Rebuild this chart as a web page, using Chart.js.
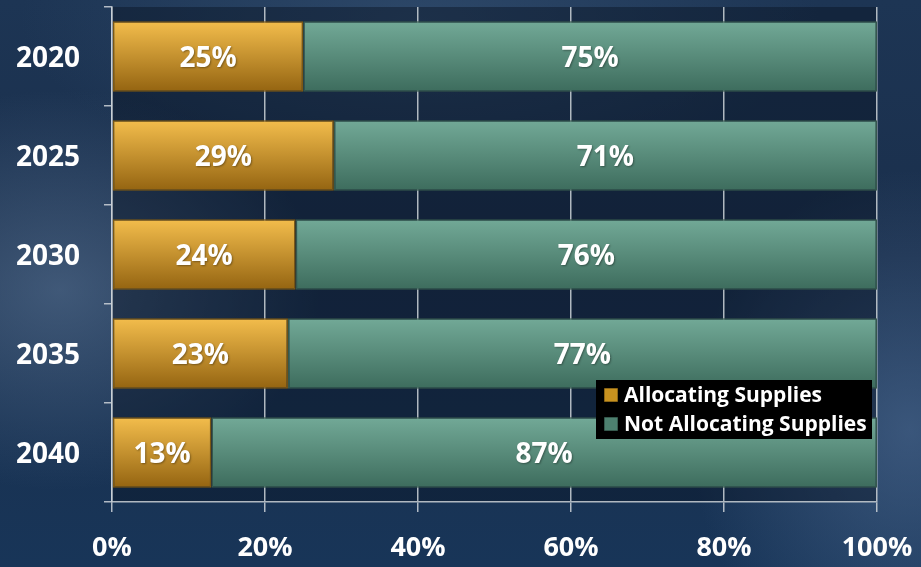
<!DOCTYPE html>
<html>
<head>
<meta charset="utf-8">
<script src="https://cdn.jsdelivr.net/npm/chart.js@4.4.1/dist/chart.umd.min.js"></script>
<style>
  html, body { margin: 0; padding: 0; }
  body {
    width: 921px; height: 567px; overflow: hidden;
    background:
      radial-gradient(ellipse 260px 200px at 60px 290px, rgba(95,122,155,0.55), rgba(95,122,155,0) 100%),
      radial-gradient(ellipse 220px 260px at 910px 430px, rgba(80,110,150,0.6), rgba(80,110,150,0) 100%),
      radial-gradient(ellipse 400px 160px at 420px 20px, rgba(60,90,125,0.5), rgba(60,90,125,0) 100%),
      linear-gradient(180deg, #1d3554 0%, #1a2f4c 45%, #183558 100%);
  }
  #wrap { position: relative; width: 921px; height: 567px; }
</style>
</head>
<body>
<div id="wrap"><canvas id="supplyChart" width="921" height="567"></canvas></div>
<script>
// ============================================================================
// DATA
// ============================================================================
const years = ['2020', '2025', '2030', '2035', '2040'];
const allocating = [25, 29, 24, 23, 13];
const notAllocating = [75, 71, 76, 77, 87];
const seriesNames = ['Allocating Supplies', 'Not Allocating Supplies'];
const xTickValues = [0, 20, 40, 60, 80, 100];

const FONT = '"Open Sans", "DejaVu Sans", sans-serif';
const BAR_PCT = 0.71;

// Vertical gradient for each bar, built from the y scale
function barGradient(top, bottom) {
  return (context) => {
    const chart = context.chart;
    const yScale = chart.scales.y;
    if (!yScale || !chart.chartArea || context.dataIndex === undefined) return bottom;
    const band = yScale.height / years.length;
    const c = yScale.getPixelForValue(context.dataIndex);
    const h = band * BAR_PCT;
    const g = chart.ctx.createLinearGradient(0, c - h / 2, 0, c + h / 2);
    g.addColorStop(0, top);
    g.addColorStop(0.5, blend(top, bottom));
    g.addColorStop(1, bottom);
    return g;
  };
}

function blend(a, b) {
  const pa = [1, 3, 5].map(i => parseInt(a.substr(i, 2), 16));
  const pb = [1, 3, 5].map(i => parseInt(b.substr(i, 2), 16));
  return 'rgb(' + pa.map((v, i) => Math.round((v + pb[i]) / 2)).join(',') + ')';
}

// Darker fill behind the plot area
const plotBackground = {
  id: 'plotBackground',
  beforeDraw(chart) {
    const { ctx, chartArea } = chart;
    ctx.save();
    ctx.fillStyle = 'rgba(8, 16, 30, 0.42)';
    ctx.fillRect(chartArea.left, chartArea.top, chartArea.right - chartArea.left, chartArea.bottom - chartArea.top);
    ctx.restore();
  }
};

// Percent labels centred in each segment
const segmentLabels = {
  id: 'segmentLabels',
  afterDatasetsDraw(chart) {
    const ctx = chart.ctx;
    ctx.save();
    ctx.font = 'bold 28px ' + FONT;
    ctx.fillStyle = '#ffffff';
    ctx.textAlign = 'center';
    ctx.textBaseline = 'middle';
    ctx.shadowColor = 'rgba(0,0,0,0.35)';
    ctx.shadowBlur = 2;
    ctx.shadowOffsetX = 1;
    ctx.shadowOffsetY = 1;
    chart.data.datasets.forEach((ds, i) => {
      const meta = chart.getDatasetMeta(i);
      meta.data.forEach((bar, j) => {
        const p = bar.getCenterPoint();
        ctx.fillText(ds.data[j] + '%', p.x, p.y + 3);
      });
    });
    ctx.restore();
  }
};

// Black legend box inside the plot area
const boxLegend = {
  id: 'boxLegend',
  afterDraw(chart) {
    const ctx = chart.ctx;
    const x = 596, y = 380, w = 276, h = 59;
    ctx.save();
    ctx.fillStyle = '#000000';
    ctx.fillRect(x, y, w, h);
    ctx.font = 'bold 21px ' + FONT;
    ctx.textBaseline = 'middle';
    const swatches = ['#c8921f', '#4d806f'];
    chart.data.datasets.forEach((ds, i) => {
      const cy = y + 15 + i * 29;
      ctx.fillStyle = swatches[i];
      ctx.fillRect(x + 8, cy - 7, 14, 14);
      ctx.strokeStyle = 'rgba(0,0,0,0.6)';
      ctx.lineWidth = 1;
      ctx.strokeRect(x + 8, cy - 7, 14, 14);
      ctx.fillStyle = '#ffffff';
      ctx.fillText(ds.label, x + 28, cy + 1);
    });
    ctx.restore();
  }
};

const gridColor = 'rgba(205, 210, 216, 0.85)';

new Chart(document.getElementById('supplyChart'), {
  type: 'bar',
  data: {
    labels: years,
    datasets: [
      {
        label: seriesNames[0],
        data: allocating,
        backgroundColor: barGradient('#f3bd4c', '#946411'),
        borderColor: '#7c5712',
        borderWidth: 1.5,
        borderSkipped: false
      },
      {
        label: seriesNames[1],
        data: notAllocating,
        backgroundColor: barGradient('#72a997', '#3d6c5d'),
        borderColor: '#35584d',
        borderWidth: 1.5,
        borderSkipped: false
      }
    ]
  },
  options: {
    indexAxis: 'y',
    responsive: false,
    animation: false,
    devicePixelRatio: 1,
    categoryPercentage: 1,
    barPercentage: BAR_PCT,
    layout: { padding: { top: 7, right: 44, left: 0, bottom: 0 } },
    plugins: {
      legend: { display: false },
      tooltip: { enabled: false }
    },
    scales: {
      x: {
        stacked: true,
        min: 0,
        max: 100,
        afterBuildTicks: (scale) => { scale.ticks = xTickValues.map(v => ({ value: v })); },
        afterFit: (scale) => {
          scale.height = 65;
          scale.paddingLeft = 0;
          scale.paddingRight = 0;
        },
        ticks: {
          color: '#ffffff',
          font: { family: FONT, size: 27, weight: 'bold' },
          padding: 20,
          maxRotation: 0,
          callback: (v) => v + '%'
        },
        grid: { color: gridColor, lineWidth: 1.5, tickLength: 10 },
        border: { display: true, color: gridColor, width: 1.5 }
      },
      y: {
        stacked: true,
        afterFit: (scale) => {
          scale.width = 112;
          scale.paddingTop = 0;
          scale.paddingBottom = 0;
        },
        ticks: {
          color: '#ffffff',
          font: { family: FONT, size: 28, weight: 'bold' },
          padding: 24,
          labelOffset: 3
        },
        grid: { drawOnChartArea: false, color: gridColor, lineWidth: 1.5, tickLength: 8 },
        border: { display: true, color: gridColor, width: 1.5 }
      }
    }
  },
  plugins: [plotBackground, segmentLabels, boxLegend]
});
</script>
</body>
</html>
